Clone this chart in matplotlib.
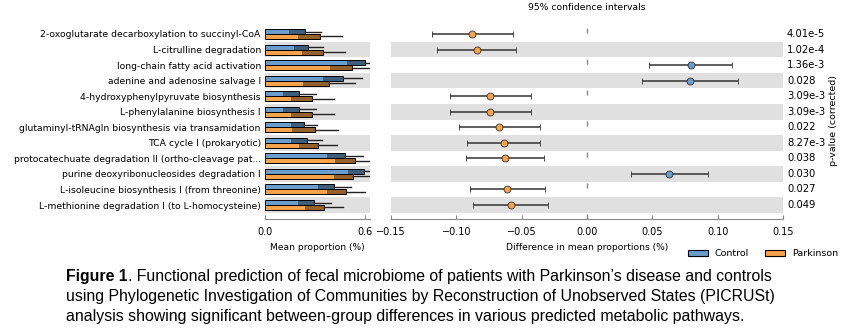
import matplotlib
matplotlib.use("Agg")
import matplotlib.pyplot as plt
from matplotlib.patches import Patch

pathways = [
    "2-oxoglutarate decarboxylation to succinyl-CoA",
    "L-citrulline degradation",
    "long-chain fatty acid activation",
    "adenine and adenosine salvage I",
    "4-hydroxyphenylpyruvate biosynthesis",
    "L-phenylalanine biosynthesis I",
    "glutaminyl-tRNAgln biosynthesis via transamidation",
    "TCA cycle I (prokaryotic)",
    "protocatechuate degradation II (ortho-cleavage pat...",
    "purine deoxyribonucleosides degradation I",
    "L-isoleucine biosynthesis I (from threonine)",
    "L-methionine degradation I (to L-homocysteine)",
]

# mean proportion (%) and standard deviation per group
control_mean = [0.24, 0.26, 0.60, 0.466, 0.206, 0.206, 0.234, 0.25, 0.48, 0.596, 0.416, 0.296]
control_sd = [0.097, 0.088, 0.11, 0.117, 0.10, 0.10, 0.08, 0.093, 0.106, 0.10, 0.098, 0.098]
parkinson_mean = [0.33, 0.35, 0.52, 0.384, 0.284, 0.284, 0.30, 0.316, 0.54, 0.526, 0.484, 0.356]
parkinson_sd = [0.13, 0.13, 0.13, 0.155, 0.127, 0.127, 0.14, 0.115, 0.12, 0.11, 0.113, 0.114]

# difference in mean proportions with 95% CI
diff = [-0.0877, -0.0844, 0.0793, 0.0788, -0.074, -0.074, -0.067, -0.0637, -0.063, 0.063, -0.061, -0.0584]
ci_low = [-0.1188, -0.1145, 0.0477, 0.0423, -0.105, -0.105, -0.098, -0.0916, -0.0928, 0.0334, -0.0893, -0.0875]
ci_high = [-0.0569, -0.0541, 0.111, 0.1153, -0.043, -0.043, -0.0357, -0.0357, -0.0329, 0.0923, -0.0324, -0.0298]
pvalues = ["4.01e-5", "1.02e-4", "1.36e-3", "0.028", "3.09e-3", "3.09e-3",
           "0.022", "8.27e-3", "0.038", "0.030", "0.027", "0.049"]

blue = "#6a9dcc"
orange = "#f7a34b"
band = "#e0e0e0"

n = len(pathways)
ypos = [n - 1 - i for i in range(n)]

fig = plt.figure(figsize=(8.65, 3.33), dpi=100)
W, H = 865.0, 333.0
ax_bar = fig.add_axes([265 / W, 1 - 219 / H, 105 / W, 199 / H])
ax_ci = fig.add_axes([391 / W, 1 - 219 / H, 392 / W, 199 / H])

h = 0.32
for i, y in enumerate(ypos):
    if i % 2 == 1:
        ax_bar.axhspan(y - 0.5, y + 0.5, color=band, lw=0, zorder=0)
        ax_ci.axhspan(y - 0.5, y + 0.5, color=band, lw=0, zorder=0)
    for m, sd, off, col in ((control_mean[i], control_sd[i], h / 2, blue),
                            (parkinson_mean[i], parkinson_sd[i], -h / 2, orange)):
        ax_bar.barh(y + off, m, height=h, color=col, edgecolor="black", lw=0.7, zorder=2)
        ax_bar.barh(y + off, sd, left=m - sd, height=h, color="black", alpha=0.4, lw=0, zorder=3)
        ax_bar.plot([m, m + sd], [y + off, y + off], color="#222222", lw=1.0, zorder=3)

ax_bar.set_xlim(0, 0.63)
ax_bar.set_ylim(-0.9, n - 0.1)
ax_bar.set_xticks([0.0, 0.6])
ax_bar.set_xticklabels(["0.0", "0.6"])
ax_bar.set_yticks(ypos)
ax_bar.set_yticklabels(pathways, fontsize=6.7)
ax_bar.tick_params(axis="y", length=0, pad=3)
ax_bar.tick_params(axis="x", direction="in", labelsize=7, length=3, pad=6, color="#888888")
ax_bar.set_xlabel("Mean proportion (%)", fontsize=6.6)
for s in ("top", "right", "left"):
    ax_bar.spines[s].set_visible(False)
ax_bar.spines["bottom"].set_color("#888888")

# confidence interval panel
for i, y in enumerate(ypos):
    col = blue if diff[i] > 0 else orange
    ax_ci.errorbar(diff[i], y, xerr=[[diff[i] - ci_low[i]], [ci_high[i] - diff[i]]],
                   fmt="o", color=col, ecolor="#333333", elinewidth=1.1, capsize=2.5,
                   capthick=1.0, ms=5, mec="#333333", mew=0.6, zorder=3)
    ax_ci.text(1.01, y, pvalues[i], transform=ax_ci.get_yaxis_transform(),
               fontsize=7.2, va="center", ha="left")

ax_ci.axvline(0, color="#888888", lw=1.0, ls=(0, (3.6, 18.7)), zorder=1)
ax_ci.set_xlim(-0.15, 0.15)
ax_ci.set_ylim(-0.9, n - 0.1)
ax_ci.set_xticks([-0.15, -0.10, -0.05, 0.0, 0.05, 0.10, 0.15])
ax_ci.set_xticklabels(["\u22120.15", "\u22120.10", "\u22120.05", "0.00", "0.05", "0.10", "0.15"])
ax_ci.set_yticks([])
ax_ci.tick_params(axis="x", direction="in", labelsize=7, length=3, pad=6, color="#888888")
ax_ci.set_xlabel("Difference in mean proportions (%)", fontsize=6.6)
ax_ci.set_title("95% confidence intervals", fontsize=6.7, pad=7)
for s in ("top", "right", "left"):
    ax_ci.spines[s].set_visible(False)
ax_ci.spines["bottom"].set_color("#888888")
fig.text(833 / W, 1 - 120 / H, "p-value (corrected)", rotation=90,
         fontsize=6.8, ha="center", va="center")

handles = [Patch(facecolor=blue, edgecolor="black", lw=0.8, label="Control"),
           Patch(facecolor=orange, edgecolor="black", lw=0.8, label="Parkinson")]
fig.legend(handles=handles, loc="center", bbox_to_anchor=(763 / W, 1 - 254 / H),
           ncol=2, frameon=False, fontsize=6.8, handlelength=2.1, handleheight=0.65,
           columnspacing=1.75, handletextpad=0.7)

# caption, bold "Figure 1" followed by regular text
cap = "Liberation Sans"
cs = 11.4
x0 = 66 / W
t = fig.text(x0, 1 - 277 / H, "Figure 1", fontsize=cs, family=cap, weight="bold", va="center")
fig.canvas.draw()
bb = t.get_window_extent(renderer=fig.canvas.get_renderer())
fig.text(bb.x1 / W, 1 - 277 / H,
         ". Functional prediction of fecal microbiome of patients with Parkinson\u2019s disease and controls",
         fontsize=cs, family=cap, va="center")
fig.text(x0, 1 - 297 / H,
         "using Phylogenetic Investigation of Communities by Reconstruction of Unobserved States (PICRUSt)",
         fontsize=cs, family=cap, va="center")
fig.text(x0, 1 - 316 / H,
         "analysis showing significant between-group differences in various predicted metabolic pathways.",
         fontsize=cs, family=cap, va="center")

fig.savefig("out.png", dpi=100)
